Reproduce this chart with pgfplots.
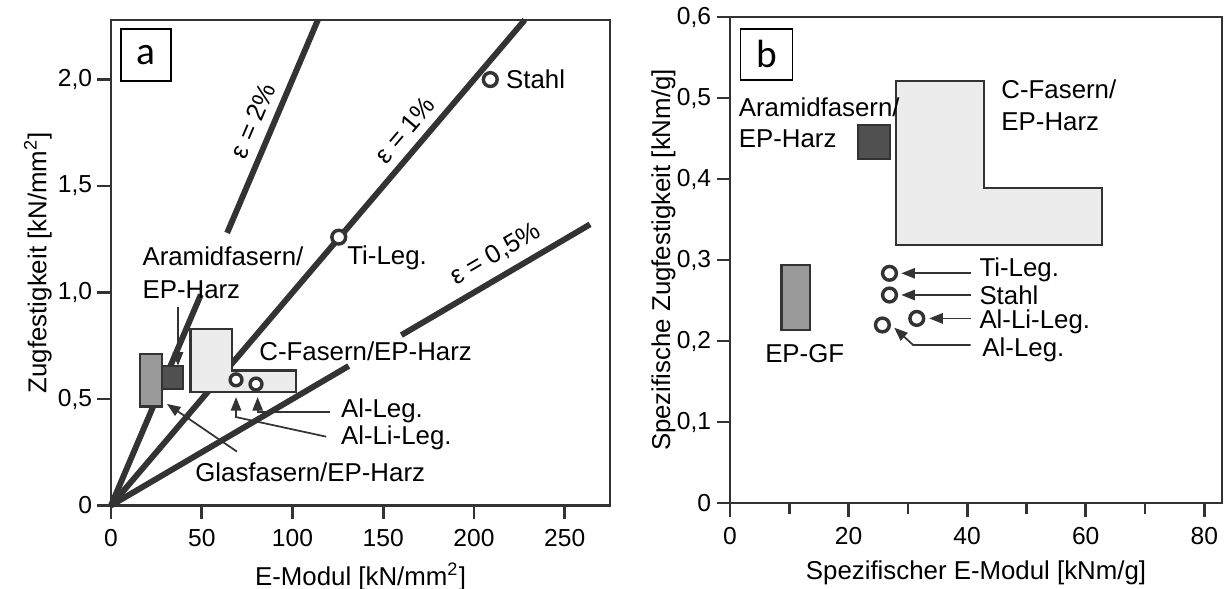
\documentclass[border=0pt]{standalone}
\usepackage{fontspec}
\setmainfont{Liberation Sans}
\newfontfamily\calfont{Carlito}
\usepackage{pgfplots}
\pgfplotsset{compat=1.18}
\usetikzlibrary{arrows.meta}

\definecolor{ink}{HTML}{333333}
\definecolor{gcarbon}{HTML}{ECECEC}
\definecolor{gglass}{HTML}{9A9A9A}
\definecolor{garamid}{HTML}{505050}

\newcommand{\lab}{\fontsize{10.5}{12.6}\selectfont}

\pgfplotsset{
  panel/.style={
    scale only axis,
    anchor=south west,
    clip=false,
    axis line style={ink, line width=1pt},
    tick style={ink, line width=1.1pt},
    tick align=outside,
    major tick length=5.5pt,
    minor tick length=4.3pt,
    xtick pos=bottom,
    ytick pos=left,
    tick label style={font=\fontsize{10}{12}\selectfont, inner sep=2pt},
    xticklabel style={inner sep=4pt},
    xlabel shift=-1pt,
    label style={font=\lab},
    /pgf/number format/assume math mode=true,
  },
  eline/.style={draw=ink, line width=2.4pt, mark=none},
  box/.style={draw=ink, line width=1pt, mark=none},
  arr/.style={draw=ink, line width=0.7pt, mark=none, -{Triangle[length=5.5pt,width=4.2pt]}},
  ring/.style={only marks, mark=*, mark size=2.8pt, mark options={draw=ink, line width=1.4pt, fill=white}},
}
\tikzset{
  tag/.style={draw=black, line width=0.6pt, fill=white, anchor=north west, inner sep=0pt,
    font=\calfont\fontsize{16}{16}\selectfont},
  txt/.style={anchor=west, inner sep=0pt, font=\lab},
}

\begin{document}
\begin{tikzpicture}
\path[use as bounding box] (0,0) rectangle (17.5cm,8.4cm);

% ---- panel a ----
\begin{axis}[panel,
  at={(1.586cm,1.179cm)},
  width=7.129cm, height=6.936cm,
  xmin=0, xmax=275, ymin=0, ymax=2.28,
  xtick={0,50,100,150,200,250},
  ytick={0,0.5,1,1.5,2},
  yticklabels={0,{0,5},{1,0},{1,5},{2,0}},
  xlabel={E-Modul [kN/mm\textsuperscript{2}]},
  ylabel={Zugfestigkeit [kN/mm\textsuperscript{2}]},
  ylabel shift=-3pt,
]
% strain lines
\addplot[eline] coordinates {(0,0) (49.5,0.99)};
\addplot[eline] coordinates {(64,1.28) (114,2.28)}
  node[pos=0.49, sloped, above, font=\lab] {ε = 2\%};
\addplot[eline] coordinates {(0,0) (228,2.28)}
  node[pos=0.747, sloped, above, font=\lab] {ε = 1\%};
\addplot[eline] coordinates {(0,0) (131,0.655)};
\addplot[eline] coordinates {(160,0.8) (264,1.32)}
  node[pos=0.56, sloped, above, font=\lab] {ε = 0,5\%};

% material fields
\addplot[box, fill=gglass] coordinates {(16.1,0.464) (28,0.464) (28,0.711) (16.1,0.711)} -- cycle;
\addplot[box, fill=garamid] coordinates {(28,0.548) (39.6,0.548) (39.6,0.656) (28,0.656)} -- cycle;
\addplot[box, fill=gcarbon] coordinates {(43.7,0.532) (101.9,0.532) (101.9,0.634) (66.6,0.634) (66.6,0.828) (43.7,0.828)} -- cycle;

% metals
\addplot[ring] coordinates {(209,2.0) (125.5,1.26)};
\addplot[ring, mark size=2.4pt] coordinates {(68.9,0.59) (79.9,0.57)};

% pointers
\addplot[arr] coordinates {(36.9,0.93) (36.9,0.656)};
\addplot[arr] coordinates {(69.4,0.253) (30.8,0.477)};
\addplot[arr] coordinates {(118.6,0.323) (68.9,0.415) (68.9,0.509)};
\addplot[arr] coordinates {(120.7,0.438) (80.8,0.438) (80.8,0.509)};

\node[txt] at (axis cs:17.1,1.17) {Aramidfasern/};
\node[txt] at (axis cs:17.1,1.013) {EP-Harz};
\node[txt] at (axis cs:130,1.162) {Ti-Leg.};
\node[txt] at (axis cs:217.5,2.0) {Stahl};
\node[txt] at (axis cs:81.5,0.726) {C-Fasern/EP-Harz};
\node[txt] at (axis cs:126.5,0.446) {Al-Leg.};
\node[txt] at (axis cs:126.5,0.316) {Al-Li-Leg.};
\node[txt] at (axis cs:46.2,0.154) {Glasfasern/EP-Harz};

\node[tag, minimum width=0.714cm, minimum height=0.743cm] at (rel axis cs:0.0185,0.983) {a};
\end{axis}

% ---- panel b ----
\begin{axis}[panel,
  at={(10.429cm,1.214cm)},
  width=7.029cm, height=6.943cm,
  xmin=0, xmax=83, ymin=0, ymax=0.6,
  xtick={0,20,40,60,80},
  minor xtick={10,30,50,70},
  ytick={0,0.1,0.2,0.3,0.4,0.5,0.6},
  yticklabels={0,{0,1},{0,2},{0,3},{0,4},{0,5},{0,6}},
  xlabel={Spezifischer E-Modul [kNm/g]},
  ylabel={Spezifische Zugfestigkeit [kNm/g]},
  ylabel shift=-5pt,
]
\addplot[box, fill=gglass] coordinates {(8.7,0.2136) (13.5,0.2136) (13.5,0.294) (8.7,0.294)} -- cycle;
\addplot[box, fill=garamid] coordinates {(21.6,0.425) (27.0,0.425) (27.0,0.467) (21.6,0.467)} -- cycle;
\addplot[box, fill=gcarbon] coordinates {(28.0,0.3185) (62.7,0.3185) (62.7,0.389) (42.8,0.389) (42.8,0.521) (28.0,0.521)} -- cycle;

\addplot[ring] coordinates {(26.9,0.2836) (26.9,0.2568) (31.5,0.2279) (25.7,0.2198)};

\addplot[arr] coordinates {(40.6,0.2836) (28.9,0.2836)};
\addplot[arr] coordinates {(40.6,0.2568) (28.9,0.2568)};
\addplot[arr] coordinates {(40.6,0.2279) (33.6,0.2279)};
\addplot[arr] coordinates {(40.6,0.195) (30.9,0.195) (27.7,0.2165)};

\node[txt] at (axis cs:1.4,0.489) {Aramidfasern/};
\node[txt] at (axis cs:1.4,0.450) {EP-Harz};
\node[txt] at (axis cs:45.7,0.511) {C-Fasern/};
\node[txt] at (axis cs:45.7,0.471) {EP-Harz};
\node[font=\lab] at (axis cs:12.6,0.185) {EP-GF};
\node[txt] at (axis cs:42.0,0.288) {Ti-Leg.};
\node[txt] at (axis cs:42.0,0.257) {Stahl};
\node[txt] at (axis cs:42.0,0.224) {Al-Li-Leg.};
\node[txt] at (axis cs:42.5,0.189) {Al-Leg.};

\node[tag, minimum width=0.739cm, minimum height=0.729cm] at (rel axis cs:0.02,0.977) {b};
\end{axis}
\end{tikzpicture}
\end{document}
